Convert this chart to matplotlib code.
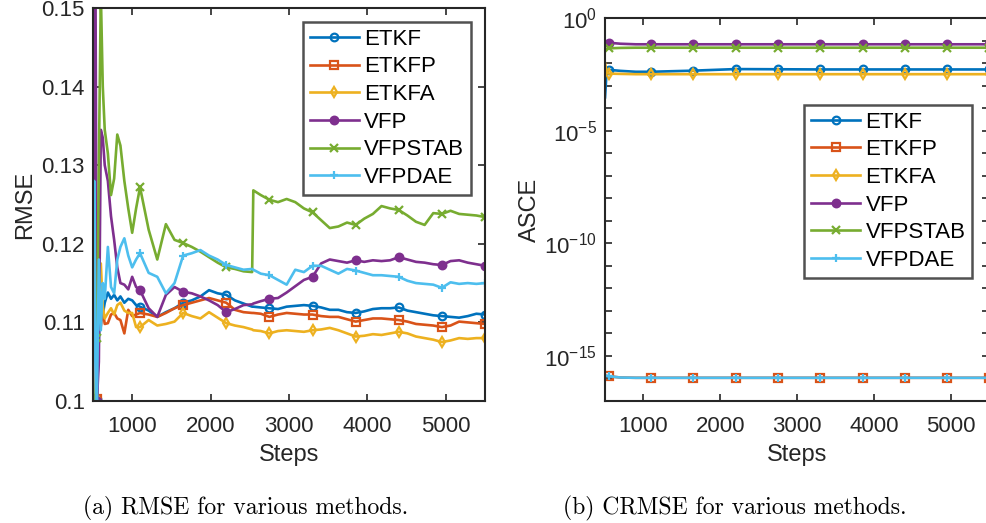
import numpy as np
import matplotlib
matplotlib.use("Agg")
import matplotlib.pyplot as plt
from matplotlib.ticker import FixedLocator, FuncFormatter, NullFormatter

plt.rcParams['font.family'] = ['Liberation Sans', 'DejaVu Sans']
plt.rcParams['mathtext.fontset'] = 'custom'
plt.rcParams['mathtext.rm'] = 'Liberation Sans'
plt.rcParams['mathtext.it'] = 'Liberation Sans:italic'

# ---- data ----
methods = ['ETKF', 'ETKFP', 'ETKFA', 'VFP', 'VFPSTAB', 'VFPDAE']
colors = ['#0072BD', '#D95319', '#EDB120', '#7E2F8E', '#77AC30', '#4DBEEE']
markers = ['o', 's', 'd', 'o', 'x', '+']
filled = [False, False, False, True, True, True]

# RMSE (left panel)
steps = [500, 515, 530, 550, 575, 600, 625, 650, 690, 730, 770, 810, 850, 900,
         950, 1000, 1050, 1100, 1210, 1320, 1430, 1540, 1650, 1760, 1870, 1980,
         2090, 2200, 2310, 2420, 2530, 2545, 2640, 2750, 2860, 2970, 3080, 3190,
         3300, 3410, 3520, 3630, 3740, 3850, 3960, 4070, 4180, 4290, 4400, 4510,
         4620, 4730, 4840, 4950, 5060, 5170, 5280, 5390, 5500]

rmse_etkf = [0.1, 0.1, 0.1, 0.1003, 0.108, 0.1135, 0.111, 0.1125, 0.1138, 0.113,
             0.1135, 0.1128, 0.1133, 0.1125, 0.113, 0.1128, 0.1122, 0.112, 0.1115,
             0.1107, 0.1113, 0.1118, 0.1125, 0.1128, 0.1133, 0.1141, 0.1137, 0.1135,
             0.1128, 0.1124, 0.112, 0.112, 0.1119, 0.1118, 0.1117, 0.112, 0.1121,
             0.1122, 0.1121, 0.1119, 0.1116, 0.1116, 0.1113, 0.1112, 0.1114, 0.1117,
             0.1118, 0.1118, 0.1119, 0.1115, 0.1113, 0.1111, 0.1109, 0.1108, 0.1107,
             0.1106, 0.1108, 0.1111, 0.111]
rmse_etkfp = [0.1, 0.1, 0.1, 0.1002, 0.11, 0.1095, 0.1115, 0.1098, 0.1099, 0.111,
              0.1112, 0.1105, 0.1103, 0.1086, 0.1116, 0.1108, 0.111, 0.1112, 0.111,
              0.1107, 0.1112, 0.1118, 0.1122, 0.1125, 0.1128, 0.1131, 0.1128, 0.1125,
              0.1116, 0.1113, 0.1112, 0.1112, 0.1111, 0.1107, 0.111, 0.1112, 0.1111,
              0.111, 0.111, 0.1108, 0.1107, 0.1107, 0.1104, 0.1101, 0.1103, 0.1105,
              0.1105, 0.1104, 0.1103, 0.1101, 0.1098, 0.1097, 0.1096, 0.1094, 0.1096,
              0.1101, 0.11, 0.1099, 0.1098]
rmse_etkfa = [0.1, 0.1, 0.1, 0.1002, 0.111, 0.1175, 0.112, 0.1105, 0.1112, 0.1118,
              0.111, 0.1122, 0.1125, 0.1115, 0.1112, 0.1112, 0.1094, 0.1094, 0.1103,
              0.1096, 0.1098, 0.1101, 0.1112, 0.1108, 0.1105, 0.1113, 0.1106, 0.1099,
              0.1096, 0.1094, 0.1091, 0.109, 0.1089, 0.1086, 0.1089, 0.109, 0.1089,
              0.1088, 0.109, 0.1091, 0.1093, 0.109, 0.1086, 0.1082, 0.1083, 0.1085,
              0.1084, 0.1086, 0.1088, 0.1086, 0.1082, 0.108, 0.1078, 0.1075, 0.1077,
              0.108, 0.1079, 0.108, 0.108]
rmse_vfp = [0.1, 0.16, 0.16, 0.1, 0.105, 0.1345, 0.1335, 0.13, 0.128, 0.1235,
            0.1205, 0.117, 0.115, 0.1148, 0.1142, 0.1158, 0.1145, 0.1141, 0.1118,
            0.1107, 0.1135, 0.1145, 0.1139, 0.1137, 0.1133, 0.1128, 0.1122, 0.1113,
            0.1117, 0.1122, 0.1123, 0.1124, 0.1127, 0.113, 0.1131, 0.1138, 0.1146,
            0.1154, 0.1158, 0.1175, 0.118, 0.1178, 0.1176, 0.1179, 0.1177, 0.1179,
            0.1178, 0.1179, 0.1183, 0.118, 0.1177, 0.1176, 0.1174, 0.1173, 0.1178,
            0.1179, 0.1176, 0.1174, 0.1172]
rmse_vfpstab = [0.1, 0.1, 0.1, 0.108, 0.13, 0.152, 0.14, 0.1345, 0.1315, 0.1262,
                0.1283, 0.1339, 0.1325, 0.128, 0.1245, 0.1214, 0.1245, 0.1272, 0.1218,
                0.118, 0.1225, 0.1205, 0.1201, 0.1196, 0.119, 0.1183, 0.1176, 0.117,
                0.1168, 0.1165, 0.1164, 0.1268, 0.1262, 0.1256, 0.1253, 0.1257, 0.1253,
                0.1245, 0.124, 0.123, 0.122, 0.1222, 0.1227, 0.1224, 0.1232, 0.1238,
                0.1248, 0.1245, 0.1243, 0.1236, 0.1228, 0.1224, 0.1239, 0.1238, 0.1242,
                0.1238, 0.1237, 0.1236, 0.1234]
rmse_vfpdae = [0.1, 0.128, 0.108, 0.1, 0.118, 0.109, 0.115, 0.113, 0.1196, 0.1145,
               0.1137, 0.118, 0.1196, 0.1207, 0.1185, 0.117, 0.118, 0.1188, 0.1163,
               0.1158, 0.1137, 0.115, 0.1185, 0.1188, 0.1192, 0.1185, 0.118, 0.1173,
               0.117, 0.1167, 0.1168, 0.1167, 0.1162, 0.116, 0.1154, 0.1148, 0.1167,
               0.1164, 0.1172, 0.1172, 0.1167, 0.1162, 0.1168, 0.1166, 0.1163, 0.116,
               0.116, 0.1159, 0.1158, 0.1153, 0.115, 0.1149, 0.1148, 0.1144, 0.1151,
               0.1149, 0.115, 0.1149, 0.115]

# ASCE (right panel)
steps_b = [500, 520, 550, 700, 900, 1100, 1650, 2200, 2750, 3300, 3850, 4400, 4950, 5500]
asce_etkf = [3e-4, 4e-3, 5e-3, 4.5e-3, 4.1e-3, 4.1e-3, 4.6e-3, 5.4e-3, 5.3e-3, 5.2e-3,
             5.2e-3, 5.2e-3, 5.2e-3, 5.2e-3]
asce_etkfp = [1.35e-16, 1.3e-16, 1.25e-16, 1.1e-16, 1.07e-16, 1.07e-16, 1.07e-16, 1.07e-16,
              1.07e-16, 1.07e-16, 1.07e-16, 1.07e-16, 1.07e-16, 1.07e-16]
asce_etkfa = [1e-2, 4e-3, 3.4e-3, 3.3e-3, 3.2e-3, 3.2e-3, 3.2e-3, 3.2e-3, 3.2e-3, 3.2e-3,
              3.2e-3, 3.2e-3, 3.2e-3, 3.2e-3]
asce_vfp = [0.09, 0.085, 0.08, 0.072, 0.068, 0.068, 0.068, 0.068, 0.068, 0.068,
            0.068, 0.068, 0.068, 0.068]
asce_vfpstab = [0.038, 0.042, 0.045, 0.047, 0.048, 0.048, 0.048, 0.048, 0.048, 0.048,
                0.048, 0.048, 0.048, 0.048]
asce_vfpdae = [1.35e-16, 1.3e-16, 1.25e-16, 1.1e-16, 1.07e-16, 1.07e-16, 1.07e-16, 1.07e-16,
               1.07e-16, 1.07e-16, 1.07e-16, 1.07e-16, 1.07e-16, 1.07e-16]

marker_steps = [550, 1100, 1650, 2200, 2750, 3300, 3850, 4400, 4950, 5500]

rmse_all = [rmse_etkf, rmse_etkfp, rmse_etkfa, rmse_vfp, rmse_vfpstab, rmse_vfpdae]
asce_all = [asce_etkf, asce_etkfp, asce_etkfa, asce_vfp, asce_vfpstab, asce_vfpdae]

# ---- figure ----
fig = plt.figure(figsize=(9.87, 5.23), dpi=100)
ax1 = fig.add_axes([0.0942, 0.2333, 0.3972, 0.7514])
ax2 = fig.add_axes([0.613, 0.2333, 0.3895, 0.7323])

edge = '#262626'


def draw(ax, x, series):
    x = np.array(x)
    idx = list(np.where(np.isin(x, marker_steps))[0])
    for name, y, c, m, f in zip(methods, series, colors, markers, filled):
        ax.plot(x, y, color=c, lw=1.9, label=name, marker=m, markevery=idx,
                markersize=5.5, markeredgewidth=1.6,
                markerfacecolor=c if f else 'none', markeredgecolor=c)


draw(ax1, steps, rmse_all)
draw(ax2, steps_b, asce_all)

for ax in (ax1, ax2):
    ax.set_xlim(500, 5500)
    ax.set_xticks([1000, 2000, 3000, 4000, 5000])
    ax.tick_params(direction='in', top=True, right=True, length=5, width=1.2,
                   labelsize=16, colors=edge, labelcolor='#262626', pad=6)
    ax.tick_params(axis='x', pad=11)
    ax.tick_params(which='minor', direction='in', top=True, right=True, length=5,
                   width=1.2, colors=edge)
    for s in ax.spines.values():
        s.set_color(edge)
        s.set_linewidth(1.5)
    ax.set_xlabel('Steps', fontsize=17, color='#262626', labelpad=5)

ax1.set_ylim(0.1, 0.15)
ax1.set_yticks([0.1, 0.11, 0.12, 0.13, 0.14, 0.15])
ax1.yaxis.set_major_formatter(FuncFormatter(lambda v, p: '%g' % v))
ax1.set_ylabel('RMSE', fontsize=17, color='#262626', labelpad=4)

ax2.set_yscale('log')
ax2.set_ylim(1e-17, 1e0)
ax2.yaxis.set_major_locator(FixedLocator([1e-15, 1e-10, 1e-5, 1e0]))
ax2.yaxis.set_minor_locator(FixedLocator([10.0 ** k for k in range(-17, 1)]))
ax2.yaxis.set_minor_formatter(NullFormatter())
ax2.yaxis.set_major_formatter(FuncFormatter(lambda v, p: r'$10^{%d}$' % round(np.log10(v))))
ax2.set_ylabel('ASCE', fontsize=17, color='#262626', labelpad=2)

leg_kw = dict(loc='upper right', fontsize=16, frameon=True, fancybox=False,
              handlelength=2.2, handletextpad=0.25, labelspacing=0.3,
              borderpad=0.3, borderaxespad=0)
leg1 = ax1.legend(bbox_to_anchor=(0.964, 0.964), **leg_kw)
leg2 = ax2.legend(bbox_to_anchor=(0.955, 0.773), **leg_kw)
for leg in (leg1, leg2):
    leg.get_frame().set_edgecolor('#262626')
    leg.get_frame().set_linewidth(1.8)

fig.text(0.249, 0.017, '(a) RMSE for various methods.', family='cmr10', fontsize=17,
         ha='center', va='baseline')
fig.text(0.744, 0.017, '(b) CRMSE for various methods.', family='cmr10', fontsize=17,
         ha='center', va='baseline')

fig.savefig('out.png', dpi=100)
